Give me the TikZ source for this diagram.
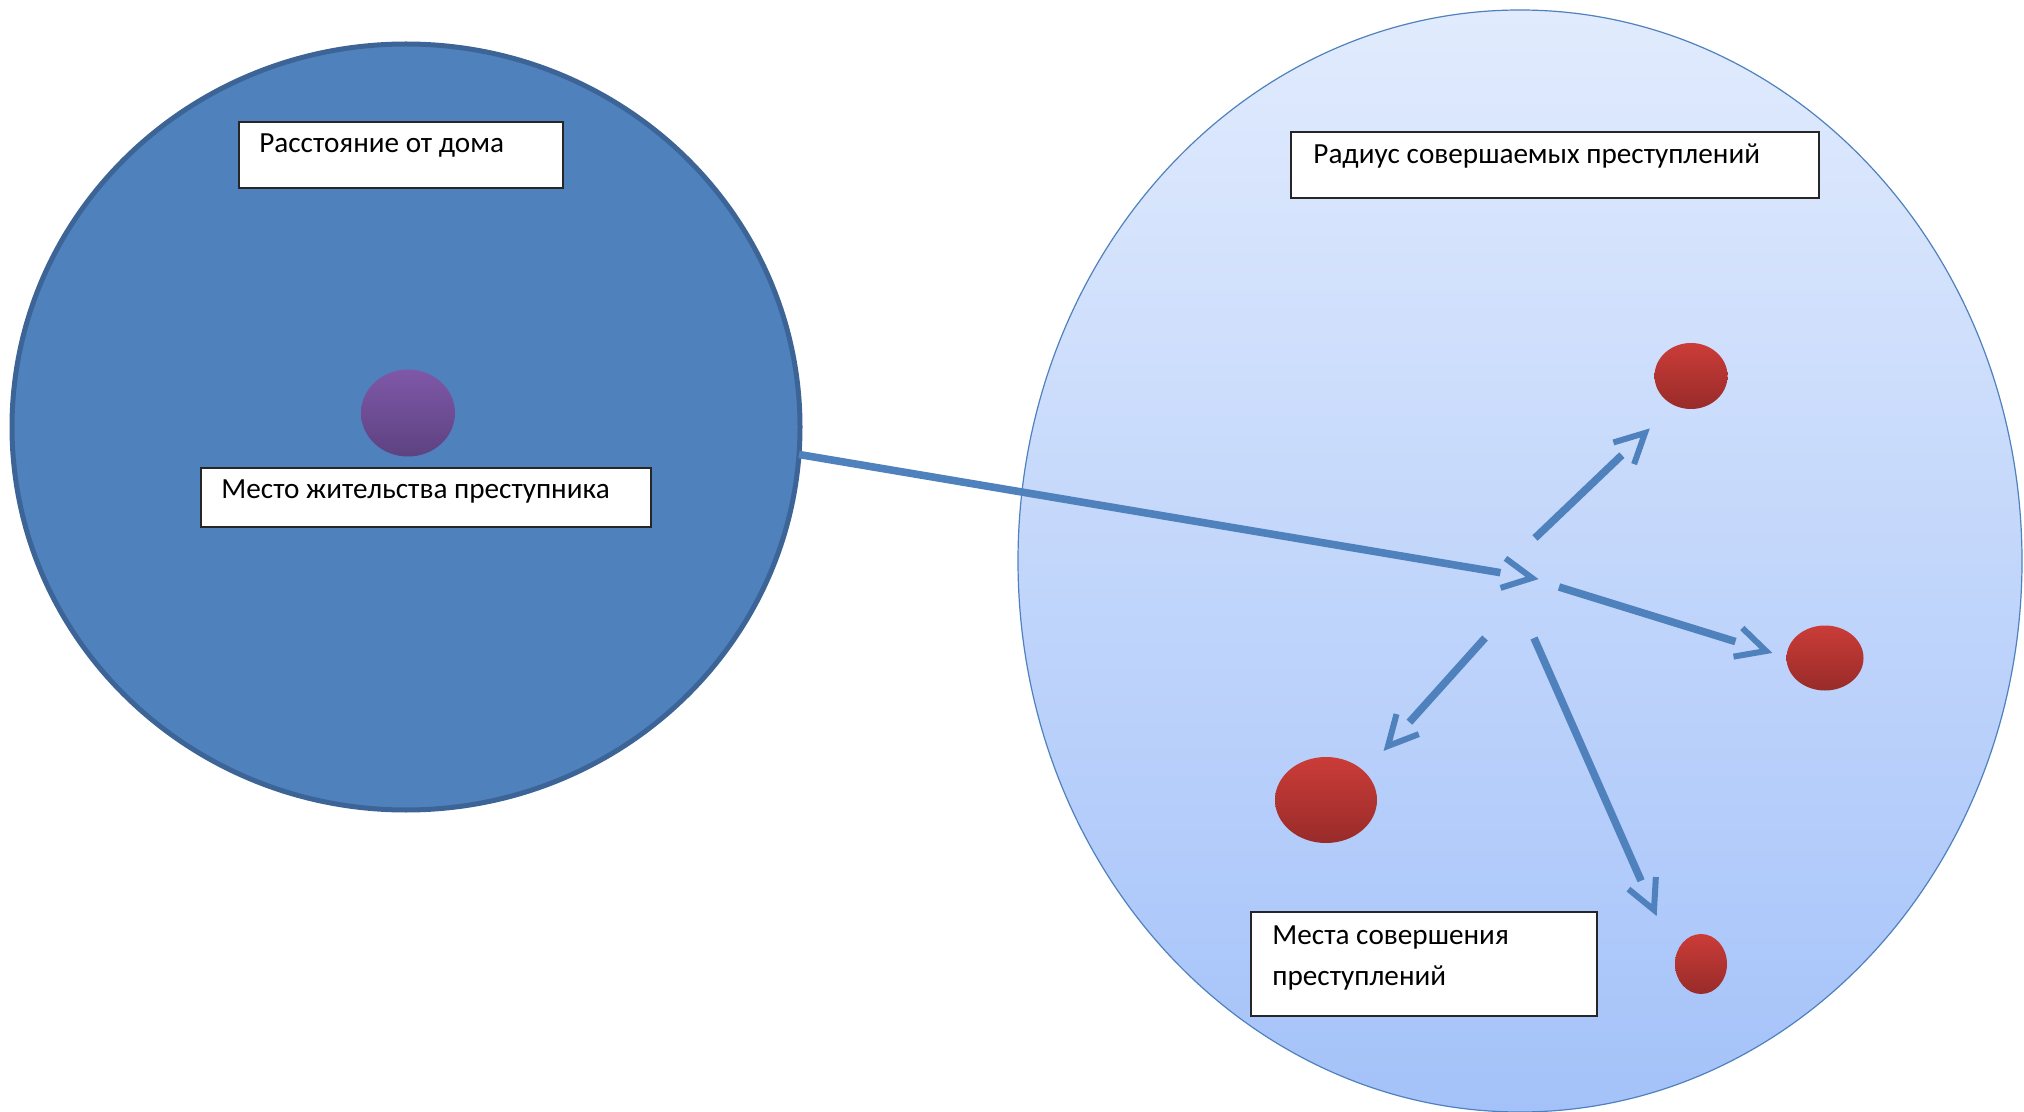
\documentclass[tikz,border=0pt]{standalone}
\usepackage{fontspec}
\setmainfont{Carlito}
\usetikzlibrary{shapes.geometric,calc}
\definecolor{hblue}{HTML}{4F81BD}
\definecolor{hborder}{HTML}{3D6496}
\definecolor{ztop}{HTML}{E1EBFD}
\definecolor{zbot}{HTML}{A4C2F9}
\definecolor{rtop}{HTML}{CB3C38}
\definecolor{rbot}{HTML}{982B29}
\definecolor{ptop}{HTML}{7F58A8}
\definecolor{pbot}{HTML}{5D4280}
\begin{document}
\begin{tikzpicture}[x=0.5pt,y=-0.5pt,
  blob/.style={ellipse, inner sep=0pt, outer sep=0pt},
  dot/.style={blob, top color=rtop, bottom color=rbot},
  labelbox/.style={rectangle, draw=black!85, line width=0.8pt, fill=white, inner sep=0pt},
  lbl/.style={font=\fontsize{14.6pt}{20.5pt}\selectfont, inner sep=0pt, align=left},
  shaftline/.style={draw=hblue, line width=3.8pt, line cap=butt, shorten >=16pt},
  barbline/.style={draw=hblue, line width=3pt, line cap=butt, line join=miter}]
\useasboundingbox (0,0) rectangle (2024,1112);
% big areas
\node[blob, fill=hblue, draw=hborder, line width=2.5pt, minimum width=394pt, minimum height=383pt] (home) at (406,427) {};
\node[blob, top color=ztop, bottom color=zbot, draw=hblue, line width=0.6pt, minimum width=502pt, minimum height=551pt] (zone) at (1520,561) {};
% home spot
\node[blob, top color=ptop, bottom color=pbot, minimum width=47pt, minimum height=43.5pt] (res) at (408,413) {};
% crime spots
\node[dot, minimum width=36.5pt, minimum height=33pt] (ca) at (1691,376) {};
\node[dot, minimum width=38.5pt, minimum height=32.5pt] (cb) at (1825,658) {};
\node[dot, minimum width=51pt, minimum height=43pt] (cc) at (1326,800) {};
\node[dot, minimum width=26pt, minimum height=30pt] (cd) at (1701,964) {};
% label boxes
\node[labelbox, minimum width=162pt, minimum height=33pt] (b1) at (401,155) {};
\node[lbl, anchor=base west] (t1) at (259,153) {Расстояние от дома};
\node[labelbox, minimum width=225pt, minimum height=29.5pt] (b2) at (426,497.5) {};
\node[lbl, anchor=base west] (t2) at (221,499) {Место жительства преступника};
\node[labelbox, minimum width=264pt, minimum height=33pt] (b3) at (1555,165) {};
\node[lbl, anchor=base west] (t3) at (1313,164) {Радиус совершаемых преступлений};
\node[labelbox, minimum width=173pt, minimum height=52pt] (b4) at (1424,964) {};
\node[lbl, anchor=base west] (t4) at (1272,985) {Места совершения\\преступлений};
% connector coordinates
\coordinate (hs) at (home.-4.5);
\coordinate (hub) at (1532,578);
\coordinate (s1) at (1535,538);
\coordinate (e1) at (1645,433);
\coordinate (s2) at (1559,587);
\coordinate (e2) at (1766,651);
\coordinate (s3) at (1485,638);
\coordinate (e3) at (1388,746);
\coordinate (s4) at (1534,638);
\coordinate (e4) at (1654,910);
\foreach \a/\b in {hs/hub, s1/e1, s2/e2, s3/e3, s4/e4}{
  \draw[shaftline] (\a) -- (\b);
  \draw[barbline] ($(\b)!16.5pt!27:(\a)$) -- (\b) -- ($(\b)!16.5pt!-27:(\a)$);
}
\end{tikzpicture}
\end{document}
